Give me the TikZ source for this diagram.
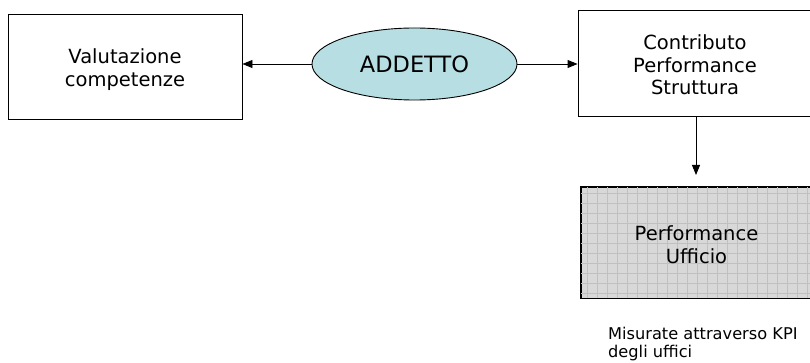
\documentclass[tikz,border=0pt]{standalone}
\usepackage{fontspec}
\setmainfont{DejaVu Sans}
\usetikzlibrary{arrows.meta,shapes.geometric}

\definecolor{ellfill}{HTML}{B7DFE3}
\definecolor{gridfill}{HTML}{D8D8D8}
\definecolor{gridline}{HTML}{C0C0C0}

\tikzset{
  box/.style={draw=black, line width=0.9pt, fill=white, inner sep=0pt},
  boxtext/.style={align=center, inner sep=0pt,
    font=\fontsize{19.5}{22.5}\selectfont},
  blob/.style={ellipse, draw=black, line width=0.9pt, fill=ellfill,
    inner sep=0pt, font=\fontsize{22.5}{26}\selectfont},
  link/.style={line width=0.9pt, -{Triangle[length=10pt,width=8pt]}},
  kpinote/.style={align=left, inner sep=0pt, anchor=base west,
    font=\fontsize{16.2}{17.5}\selectfont}
}

\begin{document}
\begin{tikzpicture}[x=1pt,y=-1pt]
  \useasboundingbox (0,0) rectangle (810,363);
  \clip (0,0) rectangle (810,363);

  % boxes and ellipse
  \node[box, minimum width=234pt, minimum height=105pt] (comp) at (125,66.5) {};
  \node[boxtext] (compl) at (125,69.5) {Valutazione\\competenze};
  \node[blob, minimum width=205pt, minimum height=72pt] (add) at (414.5,64)
    {ADDETTO};
  \node[box, minimum width=234pt, minimum height=106pt] (contr) at (695,63) {};
  \node[boxtext] (contrl) at (695,65) {Contributo\\Performance\\Struttura};

  % shaded office box with grid texture
  \node[box, fill=gridfill, minimum width=231pt, minimum height=111pt] (uff)
    at (696.5,242.5) {};
  \begin{scope}
    \clip (uff.north west) rectangle (uff.south east);
    \draw[gridline, line width=0.6pt, step=10pt, shift={(587,193)}]
      (-10,-10) grid (240,120);
  \end{scope}
  \draw[line width=0.9pt] (uff.north west) rectangle (uff.south east);
  \node[boxtext, font=\fontsize{19.5}{23}\selectfont]
    (uffl) at ([yshift=-2pt]uff.center) {Performance\\Ufficio};

  \node[kpinote] (kpi) at (608,357) {Misurate attraverso KPI\\degli uffici};

  % connectors
  \coordinate (tip) at (696,175);
  \draw[link] (add.west) -- (add.west -| comp.east);
  \draw[link] (add.east) -- (add.east -| contr.west);
  \draw[link] (contr.south -| tip) -- (tip);
\end{tikzpicture}
\end{document}
